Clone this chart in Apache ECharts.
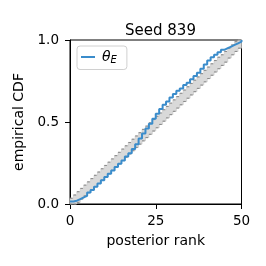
<!DOCTYPE html>
<html><head><meta charset="utf-8">
<script src="https://cdn.jsdelivr.net/npm/echarts@6/dist/echarts.min.js"></script>
<style>html,body{margin:0;padding:0;background:#fff}#c{width:266px;height:266px}</style>
</head><body><div id="c"></div>
<script>
const ranks = Array.from({length: 51}, (_, i) => i);
const ecdfTheta = [0.015,0.02,0.03,0.04,0.05,0.07,0.085,0.105,0.125,0.145,
  0.165,0.185,0.205,0.225,0.245,0.265,0.29,0.31,0.335,0.365,
  0.40,0.43,0.46,0.49,0.52,0.55,0.58,0.605,0.625,0.65,
  0.67,0.69,0.705,0.725,0.74,0.76,0.78,0.80,0.825,0.85,
  0.875,0.895,0.91,0.925,0.94,0.95,0.96,0.97,0.98,0.99,1.0];
const bandUpper = [0.035,0.055,0.075,0.095,0.115,0.135,0.155,0.175,0.195,0.215,
  0.235,0.255,0.275,0.295,0.315,0.335,0.355,0.375,0.395,0.415,
  0.435,0.455,0.475,0.495,0.515,0.535,0.555,0.575,0.595,0.615,
  0.635,0.655,0.675,0.695,0.715,0.735,0.755,0.775,0.795,0.815,
  0.835,0.855,0.875,0.895,0.91,0.93,0.95,0.97,0.99,1.0,1.0];
const bandLower = [0,0,0.01,0.03,0.05,0.068,0.087,0.106,0.125,0.145,
  0.165,0.185,0.205,0.225,0.245,0.265,0.285,0.305,0.325,0.345,
  0.365,0.385,0.405,0.425,0.445,0.465,0.485,0.505,0.525,0.545,
  0.565,0.585,0.605,0.625,0.645,0.665,0.685,0.705,0.725,0.745,
  0.765,0.785,0.805,0.825,0.845,0.865,0.89,0.91,0.93,0.95,0.965];
const xTicks = [0, 25, 50];
const yTicks = [0, 0.5, 1];
const titleText = 'Seed 839';
const seriesName = 'θE';

const FONT = 'DejaVu Sans';
const pairs = a => ranks.map((r, i) => [r, a[i]]);

// step-post points through the chart's coordinate system
function stepPts(api, vals) {
  const pts = [];
  for (let i = 0; i < ranks.length; i++) {
    pts.push(api.coord([ranks[i], vals[i]]));
    if (i < ranks.length - 1) pts.push(api.coord([ranks[i + 1], vals[i]]));
  }
  return pts;
}
// horizontal dash segments of a step edge
function dashSegs(api, vals) {
  const segs = [];
  for (let i = 0; i < ranks.length - 1; i++) {
    const a = api.coord([ranks[i], vals[i]]);
    const b = api.coord([ranks[i + 1], vals[i]]);
    segs.push({type: 'line', shape: {x1: a[0], y1: a[1], x2: b[0] - 0.8, y2: b[1]},
      style: {stroke: '#8c8c8c', lineWidth: 1.1}});
  }
  return segs;
}

const chart = echarts.init(document.getElementById('c'), null, {renderer: 'canvas'});
chart.setOption({
  animation: false,
  backgroundColor: '#fff',
  title: {text: titleText, left: 155.5, textAlign: 'center', top: 19,
    textStyle: {fontFamily: FONT, fontSize: 15, fontWeight: 'normal', color: '#000'}},
  grid: {left: 70, right: 24.5, top: 40, bottom: 62, containLabel: false,
    show: true, borderColor: '#000', borderWidth: 1, backgroundColor: 'transparent'},
  legend: {
    left: 77, top: 46, orient: 'vertical',
    data: [{name: seriesName, icon: 'rect'}],
    itemWidth: 14, itemHeight: 2, itemGap: 0,
    borderColor: '#d0d0d0', borderWidth: 1, borderRadius: 3,
    padding: [4, 10, 4, 4],
    formatter: () => '{t|θ}{s|E}',
    textStyle: {fontFamily: FONT, color: '#000',
      rich: {t: {fontFamily: FONT, fontStyle: 'italic', fontSize: 14, padding: [0, 0, 0, 2]},
             s: {fontFamily: FONT, fontStyle: 'italic', fontSize: 10, padding: [7, 0, 0, 0]}}}
  },
  xAxis: {type: 'value', min: 0, max: 50, interval: 25,
    name: 'posterior rank', nameLocation: 'middle', nameGap: 30,
    nameTextStyle: {fontFamily: FONT, fontSize: 14, color: '#000'},
    axisLine: {lineStyle: {color: '#000', width: 1}},
    axisTick: {show: true, length: 5, lineStyle: {color: '#000'}},
    axisLabel: {fontFamily: FONT, fontSize: 13.5, color: '#000', margin: 10,
      formatter: v => xTicks.includes(v) ? String(v) : ''},
    splitLine: {show: false}},
  yAxis: {type: 'value', min: 0, max: 1, interval: 0.5,
    name: 'empirical CDF', nameLocation: 'middle', nameGap: 41, nameRotate: 90,
    nameTextStyle: {fontFamily: FONT, fontSize: 14, color: '#000'},
    axisLine: {show: true, lineStyle: {color: '#000', width: 1}},
    axisTick: {show: true, length: 5, lineStyle: {color: '#000'}},
    axisLabel: {fontFamily: FONT, fontSize: 13.5, color: '#000', margin: 11,
      formatter: v => yTicks.some(t => Math.abs(t - v) < 1e-9) ? v.toFixed(1) : ''},
    splitLine: {show: false}},
  series: [
    {name: 'band', type: 'custom', data: [[0, 0]], z: 1, silent: true,
     renderItem: (params, api) => {
       const up = stepPts(api, bandUpper);
       const lo = stepPts(api, bandLower);
       const poly = up.concat(lo.slice().reverse());
       return {type: 'group', children: [
         {type: 'polygon', shape: {points: poly}, style: {fill: '#d9d9d9', stroke: '#c4c4c4', lineWidth: 0.6}}
       ].concat(dashSegs(api, bandUpper), dashSegs(api, bandLower))};
     }},
    {name: seriesName, type: 'line', step: 'end', symbol: 'none', data: pairs(ecdfTheta),
     color: '#3a8ccb', lineStyle: {color: '#3a8ccb', width: 2}, z: 3}
  ]
});
</script></body></html>
